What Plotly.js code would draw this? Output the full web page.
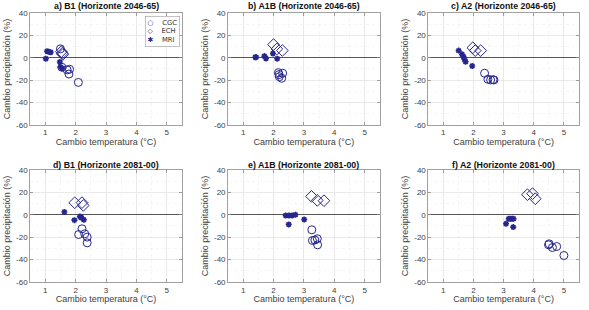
<!DOCTYPE html>
<html><head><meta charset="utf-8">
<script src="https://cdn.plot.ly/plotly-3.0.1.min.js"></script>
<style>body{margin:0;padding:0;background:#fff}#chart{width:589px;height:310px}</style>
</head><body><div id="chart"></div>
<script>
// ---- data (temperature change °C, precipitation change %) ----
const panelTitles = ["a) B1 (Horizonte 2046-65)", "b) A1B (Horizonte 2046-65)", "c) A2 (Horizonte 2046-65)",
                     "d) B1 (Horizonte 2081-00)", "e) A1B (Horizonte 2081-00)", "f) A2 (Horizonte 2081-00)"];
const seriesNames = ["CGC", "ECH", "MRI"];
const legendGlyphs = ["○", "◇", "✱"];
const xTicks = [1, 2, 3, 4, 5];
const yTicks = [-60, -40, -20, 0, 20, 40];

// a) B1 2046-65
const aCGC_T = [1.50, 1.55, 1.72, 1.80, 1.78, 2.09];
const aCGC_P = [8.0, -8.5, -10.8, -10.3, -14.5, -22.0];
const aECH_T = [1.53, 1.56, 1.58];
const aECH_P = [5.5, 4.0, 3.0];
const aMRI_T = [1.06, 1.12, 1.18, 1.02, 1.48, 1.50, 1.56];
const aMRI_P = [5.8, 5.4, 5.0, -0.8, -3.8, -8.3, -9.4];
// b) A1B 2046-65
const bCGC_T = [2.16, 2.30, 2.19, 2.18, 2.27];
const bCGC_P = [-13.3, -13.8, -16.9, -15.0, -18.3];
const bECH_T = [2.00, 2.11, 2.29];
const bECH_P = [11.8, 7.9, 6.5];
const bMRI_T = [1.40, 1.43, 1.70, 1.75, 1.98, 2.12];
const bMRI_P = [0.5, 0.5, 1.5, -0.6, 3.8, -0.8];
// c) A2 2046-65
const cCGC_T = [2.37, 2.48, 2.57, 2.65, 2.68];
const cCGC_P = [-13.8, -19.2, -19.8, -19.6, -19.8];
const cECH_T = [1.98, 2.06, 2.24];
const cECH_P = [9.0, 6.4, 6.4];
const cMRI_T = [1.51, 1.62, 1.67, 1.70, 1.74, 1.96];
const cMRI_P = [6.4, 3.1, 1.0, -1.3, -3.5, -7.3];
// d) B1 2081-00
const dCGC_T = [2.21, 2.10, 2.30, 2.38, 2.38];
const dCGC_P = [-12.5, -17.6, -17.0, -19.9, -25.0];
const dECH_T = [1.97, 2.21, 2.25];
const dECH_P = [10.7, 10.8, 8.3];
const dMRI_T = [1.63, 1.96, 2.14, 2.19, 2.27, 2.17];
const dMRI_P = [2.4, -4.8, -1.5, -2.7, -4.5, -2.0];
// e) A1B 2081-00
const eCGC_T = [3.26, 3.28, 3.44, 3.36, 3.45];
const eCGC_P = [-13.4, -22.9, -21.4, -22.5, -26.8];
const eECH_T = [3.25, 3.44, 3.66];
const eECH_P = [16.4, 12.8, 12.5];
const eMRI_T = [2.40, 2.51, 2.61, 2.72, 3.01, 2.50];
const eMRI_P = [-0.6, -0.6, -0.6, 0.0, -4.2, -8.6];
// f) A2 2081-00
const fCGC_T = [4.49, 4.51, 4.62, 4.76, 5.00];
const fCGC_P = [-26.8, -25.9, -29.2, -28.3, -36.3];
const fECH_T = [3.79, 3.96, 4.05];
const fECH_P = [17.9, 18.8, 14.3];
const fMRI_T = [3.17, 3.22, 3.28, 3.33, 3.08, 3.32];
const fMRI_P = [-3.6, -3.6, -3.6, -3.6, -8.0, -11.0];

const panels = [
  [aCGC_T, aCGC_P, aECH_T, aECH_P, aMRI_T, aMRI_P],
  [bCGC_T, bCGC_P, bECH_T, bECH_P, bMRI_T, bMRI_P],
  [cCGC_T, cCGC_P, cECH_T, cECH_P, cMRI_T, cMRI_P],
  [dCGC_T, dCGC_P, dECH_T, dECH_P, dMRI_T, dMRI_P],
  [eCGC_T, eCGC_P, eECH_T, eECH_P, eMRI_T, eMRI_P],
  [fCGC_T, fCGC_P, fECH_T, fECH_P, fMRI_T, fMRI_P]
];

// ---- styling ----
const FONT = "Liberation Sans, Arial, Helvetica, sans-serif";
const MARK = "#26268f";
const xDom = [[0.051, 0.309], [0.387, 0.645], [0.727, 0.983]];
const yDom = [[0.597, 0.958], [0.090, 0.452]];
const symbols = [
  {symbol: "circle-open", size: 8, line: {width: 1, color: MARK}},
  {symbol: "diamond-open", size: 9, line: {width: 1, color: MARK}},
  {symbol: "asterisk-open", size: 5, line: {width: 1.6, color: MARK}}
];

const data = [];
const layout = {
  width: 589, height: 310,
  margin: {l: 0, r: 0, t: 0, b: 0},
  paper_bgcolor: "#fff", plot_bgcolor: "#fff",
  font: {family: FONT, size: 8, color: "#404040"},
  showlegend: false,
  annotations: []
};

panels.forEach((p, i) => {
  const n = i + 1;
  const xa = "x" + (n === 1 ? "" : n), ya = "y" + (n === 1 ? "" : n);
  for (let s = 0; s < 3; s++) {
    data.push({
      type: "scatter", mode: "markers",
      x: p[2 * s], y: p[2 * s + 1],
      xaxis: xa, yaxis: ya,
      name: seriesNames[s],
      marker: Object.assign({color: MARK}, symbols[s])
    });
  }
  const col = i % 3, row = Math.floor(i / 3);
  const axBase = {
    showline: true, linecolor: "#8a8a8a", linewidth: 0.8, mirror: "allticks",
    ticks: "inside", ticklen: 3, tickcolor: "#8a8a8a", tickwidth: 0.8,
    showgrid: true, gridcolor: "#e3e3e3", gridwidth: 0.7,
    tickfont: {family: FONT, size: 8, color: "#404040"},
    automargin: false, fixedrange: true
  };
  layout["xaxis" + (n === 1 ? "" : n)] = Object.assign({}, axBase, {
    domain: xDom[col], anchor: ya, range: [0.5, 5.5],
    tickmode: "array", tickvals: xTicks, ticktext: xTicks.map(String),
    zeroline: false,
    minor: {dtick: 0.5, tick0: 0, showgrid: true, gridcolor: "#eeeeee", gridwidth: 0.6, griddash: "dot", ticks: ""},
    title: {text: "Cambio temperatura (°C)", font: {family: FONT, size: 9, color: "#404040"}, standoff: 2}
  });
  layout["yaxis" + (n === 1 ? "" : n)] = Object.assign({}, axBase, {
    domain: yDom[row], anchor: xa, range: [-60, 40],
    tickmode: "array", tickvals: yTicks, ticktext: yTicks.map(String),
    zeroline: true, zerolinecolor: "#555", zerolinewidth: 1.1,
    minor: {dtick: 10, tick0: 0, showgrid: true, gridcolor: "#eeeeee", gridwidth: 0.6, griddash: "dot", ticks: ""},
    title: {text: "Cambio precipitación (%)", font: {family: FONT, size: 9, color: "#404040"}, standoff: 3}
  });
  layout.annotations.push({
    text: "<b>" + panelTitles[i] + "</b>",
    xref: "paper", yref: "paper",
    x: (xDom[col][0] + xDom[col][1]) / 2,
    y: row === 0 ? 0.981 : 0.468,
    xanchor: "center", yanchor: "middle", showarrow: false,
    font: {family: FONT, size: 8.8, color: "#111"}
  });
});

// compact legend box (panel a, top right)
layout.annotations.push({
  text: seriesNames.map((nm, k) =>
    "<span style='color:" + MARK + "'>" + legendGlyphs[k] + "</span>&nbsp;&nbsp;&nbsp;&nbsp;" + nm).join("<br>"),
  xref: "paper", yref: "paper", x: 0.306, y: 0.950,
  xanchor: "right", yanchor: "top", align: "left", showarrow: false,
  font: {family: "DejaVu Sans, sans-serif", size: 6.8, color: "#333"},
  bgcolor: "#fff", bordercolor: "#999", borderwidth: 0.6, borderpad: 2
});

Plotly.newPlot("chart", data, layout, {displayModeBar: false, staticPlot: true});
</script>
</body></html>
